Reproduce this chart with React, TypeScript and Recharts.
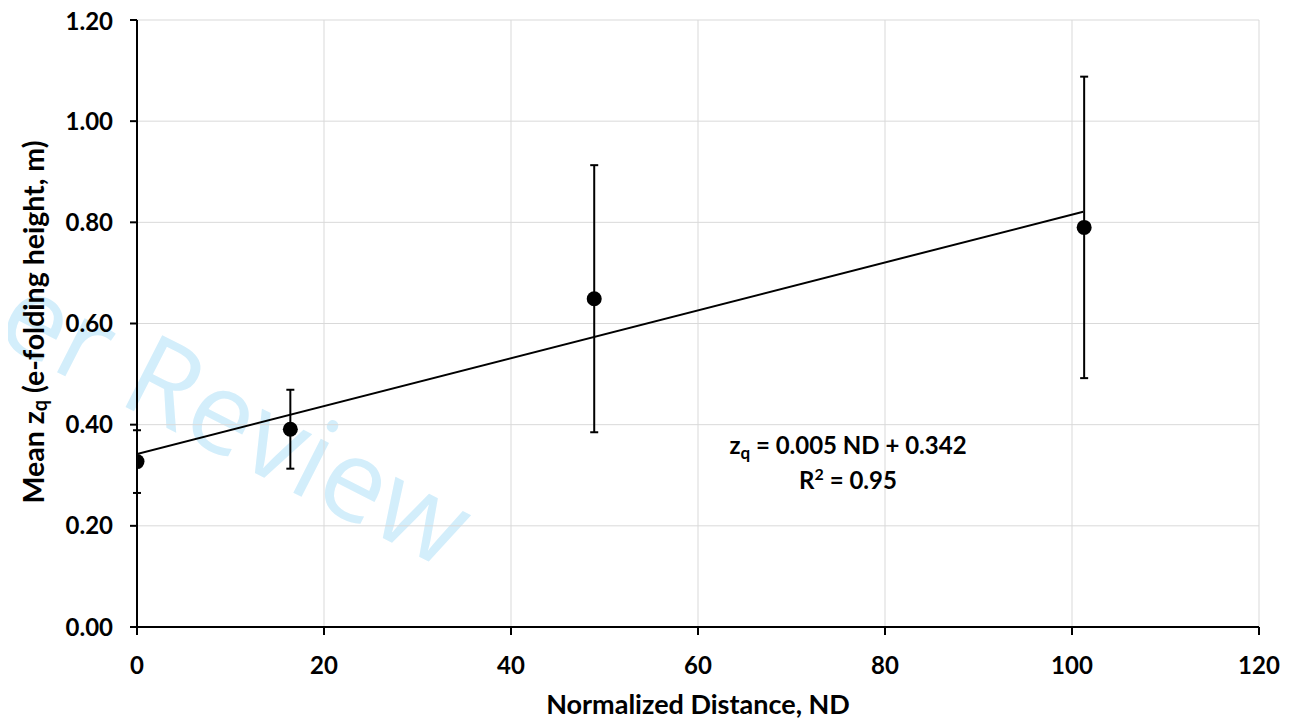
import React from 'react';
import { ComposedChart, XAxis, YAxis, CartesianGrid, Scatter, Line, ErrorBar } from 'recharts';

const distances = [0, 16.4, 48.9, 101.3];
const meanZq = [0.327, 0.391, 0.649, 0.79];
const errZq = [0.062, 0.078, 0.264, 0.298];
const trendX = [0, 101.2];
const trendY = [0.342, 0.821];
const xTicks = [0, 20, 40, 60, 80, 100, 120];
const yTicks = [0, 0.2, 0.4, 0.6, 0.8, 1.0, 1.2];

const points = distances.map((x, i) => ({ x, y: meanZq[i], err: errZq[i] }));
const trend = trendX.map((x, i) => ({ x, t: trendY[i] }));

const FONT = 'Lato, "Open Sans", sans-serif';

const Dot = (props: any) => <circle cx={props.cx} cy={props.cy} r={7.5} fill="#000" />;

export default function App() {
  return (
    <div style={{ position: 'relative', width: 1299, height: 716 }}>
      <svg
        width={1307}
        height={724}
        style={{ position: 'absolute', left: -8, top: -8, pointerEvents: 'none' }}
      >
        <text
          x={-8}
          y={339}
          transform="rotate(27 -8 339)"
          fontFamily='"Open Sans", sans-serif'
          fontSize={113}
          fill="#d3eefb"
        >
          er Review
        </text>
      </svg>
      <ComposedChart
        width={1299}
        height={716}
        margin={{ top: 12, right: 48, bottom: 0, left: 0 }}
        style={{ position: 'relative', fontFamily: FONT }}
      >
        <CartesianGrid stroke="#d9d9d9" strokeWidth={1} />
        <XAxis
          type="number"
          dataKey="x"
          domain={[0, 120]}
          ticks={xTicks}
          allowDataOverflow
          axisLine={{ stroke: '#000', strokeWidth: 2 }}
          tickLine={{ stroke: '#000', strokeWidth: 2 }}
          tickSize={8}
          tickMargin={22}
          tick={{ fill: '#000', fontSize: 24, fontWeight: 700, fontFamily: FONT }}
          height={97}
          label={(props: any) => {
            const vb = props.viewBox || {};
            const cx = (vb.x ?? 129) + (vb.width ?? 1122) / 2;
            return (
              <text
                x={cx}
                y={706}
                textAnchor="middle"
                fill="#000"
                fontSize={27}
                fontWeight={700}
                fontFamily={FONT}
              >
                Normalized Distance, ND
              </text>
            );
          }}
        />
        <YAxis
          type="number"
          domain={[0, 1.2]}
          ticks={yTicks}
          allowDataOverflow
          tickFormatter={(v: number) => v.toFixed(2)}
          axisLine={{ stroke: '#000', strokeWidth: 2 }}
          tickLine={{ stroke: '#000', strokeWidth: 2 }}
          tickSize={7}
          tickMargin={17}
          tick={{ fill: '#000', fontSize: 24, fontWeight: 700, fontFamily: FONT }}
          width={129}
          label={(props: any) => {
            const cy = 314;
            const cx = 25;
            return (
              <text
                x={cx}
                y={cy}
                transform={`rotate(-90 ${cx} ${cy})`}
                textAnchor="middle"
                dominantBaseline="central"
                fill="#000"
                fontSize={28.5}
                fontWeight={700}
                fontFamily={FONT}
              >
                Mean z
                <tspan fontSize={20} dy={6}>q</tspan>
                <tspan dy={-6}> (e-folding height, m)</tspan>
              </text>
            );
          }}
        />
        <Line
          data={trend}
          dataKey="t"
          type="linear"
          stroke="#000"
          strokeWidth={2}
          dot={false}
          activeDot={false}
          isAnimationActive={false}
          legendType="none"
        />
        <Scatter data={points} dataKey="y" fill="#000" shape={Dot} isAnimationActive={false}>
          <ErrorBar dataKey="err" direction="y" width={4} stroke="#000" strokeWidth={2} isAnimationActive={false} />
        </Scatter>
        <text
          x={840}
          y={446}
          textAnchor="middle"
          fill="#000"
          fontSize={24}
          fontWeight={700}
          fontFamily={FONT}
        >
          z<tspan fontSize={17} dy={5}>q</tspan>
          <tspan dy={-5}> = 0.005 ND + 0.342</tspan>
        </text>
        <text
          x={840}
          y={481}
          textAnchor="middle"
          fill="#000"
          fontSize={24}
          fontWeight={700}
          fontFamily={FONT}
        >
          R<tspan fontSize={16} dy={-9}>2</tspan>
          <tspan dy={9}> = 0.95</tspan>
        </text>
      </ComposedChart>
    </div>
  );
}
